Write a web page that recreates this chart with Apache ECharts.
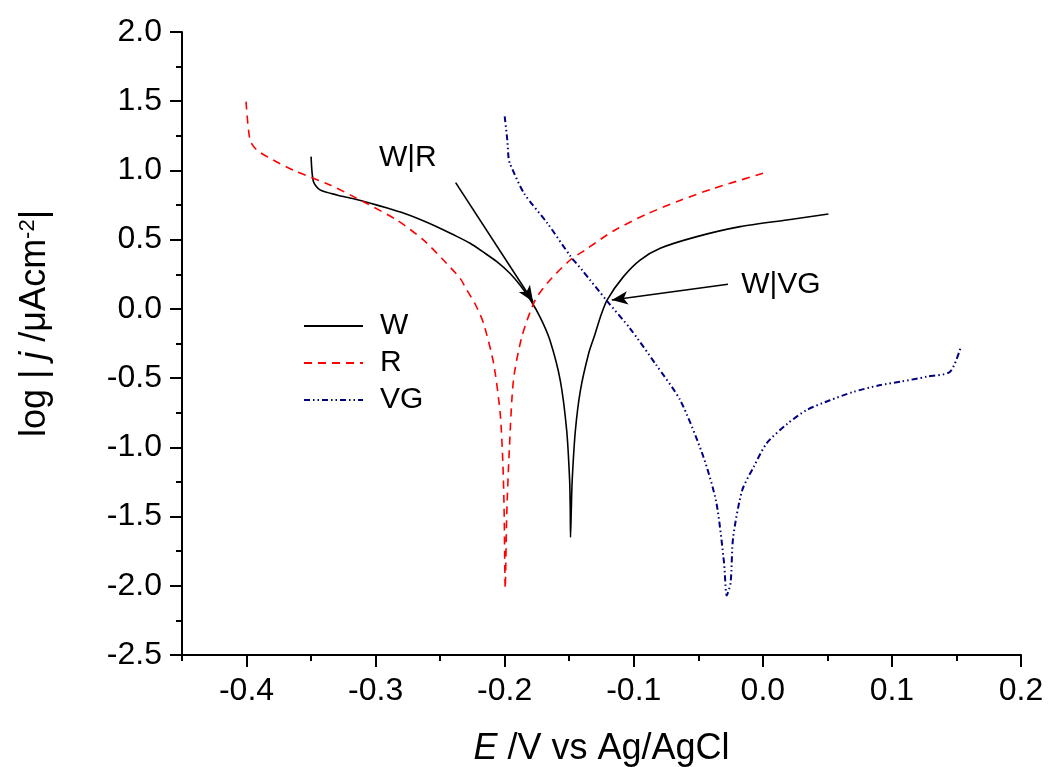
<!DOCTYPE html>
<html>
<head>
<meta charset="utf-8">
<script src="https://cdn.jsdelivr.net/npm/echarts@6/dist/echarts.min.js"></script>
<style>
html,body{margin:0;padding:0;background:#fff;}
#chart{width:1048px;height:767px;}
</style>
</head>
<body>
<div id="chart"></div>
<script>
// ---- data ----
const W_E = [-0.350,-0.3482,-0.3431,-0.330,-0.317,-0.304,-0.291,-0.278,-0.265,-0.2526,-0.240,-0.2268,-0.2165,-0.2061,-0.196,-0.188,-0.180,-0.172,-0.165,-0.157,-0.152,-0.1497,-0.1492,-0.149,-0.1484,-0.1477,-0.1452,-0.1413,-0.1349,-0.1301,-0.1258,-0.1207,-0.108,-0.0951,-0.0795,-0.0511,-0.0176,0.0186,0.0508];
const W_J = [1.10,0.92,0.86,0.823,0.795,0.763,0.728,0.69,0.644,0.594,0.537,0.474,0.41,0.341,0.257,0.17,0.064,-0.07,-0.225,-0.514,-0.875,-1.236,-1.45,-1.65,-1.45,-1.236,-0.875,-0.586,-0.32,-0.185,-0.056,0.064,0.233,0.353,0.438,0.522,0.594,0.642,0.685];

const R_E = [-0.4004,-0.3973,-0.3921,-0.3793,-0.3611,-0.3353,-0.3095,-0.2836,-0.263,-0.2475,-0.2346,-0.2293,-0.2225,-0.2164,-0.2086,-0.2035,-0.2014,-0.2004,-0.1996,-0.1984,-0.1963,-0.1932,-0.1867,-0.1764,-0.1661,-0.1493,-0.1377,-0.1158,-0.0899,-0.0642,-0.0383,0.0005];
const R_J = [1.497,1.22,1.148,1.075,0.991,0.895,0.774,0.642,0.498,0.353,0.221,0.136,0.028,-0.104,-0.393,-0.754,-1.115,-1.477,-2.02,-1.477,-0.995,-0.514,-0.201,0.064,0.196,0.353,0.425,0.563,0.685,0.783,0.87,0.98];

const VG_E = [-0.200,-0.198,-0.197,-0.196,-0.185,-0.167,-0.149,-0.140,-0.121,-0.103,-0.083,-0.064,-0.046,-0.036,-0.030,-0.028,-0.025,-0.023,-0.016,-0.007,0.003,0.019,0.034,0.052,0.070,0.091,0.107,0.127,0.145,0.153];
const VG_J = [1.39,1.22,1.09,1.05,0.835,0.62,0.38,0.28,0.06,-0.14,-0.40,-0.66,-1.07,-1.40,-1.84,-2.07,-1.98,-1.65,-1.31,-1.14,-0.97,-0.83,-0.73,-0.66,-0.60,-0.55,-0.525,-0.49,-0.454,-0.285];

const SERIES_NAMES = ['W','R','VG'];
const X_MAJOR = [-0.4,-0.3,-0.2,-0.1,0.0,0.1,0.2];
const X_MINOR = [-0.45,-0.35,-0.25,-0.15,-0.05,0.05,0.15];

// annotations: label text, text anchor (E, logj), arrow start, arrow end
const ANN_WR = {text:'W|R', at:[-0.275,1.09], from:[-0.238,0.912], to:[-0.178,0.052]};
const ANN_WVG = {text:'W|VG', at:[0.014,0.175], from:[-0.027,0.178], to:[-0.117,0.064]};

const zip = (a,b) => a.map((v,i)=>[v,b[i]]);
const FONT = 'Liberation Sans, Arial, sans-serif';

const chart = echarts.init(document.getElementById('chart'));
const annText = a => ({
  coord: a.at, symbol:'circle', symbolSize:0, itemStyle:{color:'transparent'},
  label:{show:true, position:'inside', formatter:a.text, color:'#000', fontSize:30, fontFamily:FONT}
});
const annLine = a => [{coord:a.from},{coord:a.to}];

chart.setOption({
  animation:false,
  backgroundColor:'#fff',
  grid:{left:182,right:27,top:32,bottom:112,containLabel:false,outerBoundsMode:'none'},
  legend:{
    orient:'vertical', left:303, top:311, padding:0, itemWidth:59, itemHeight:14, itemGap:7,
    itemStyle:{color:'transparent', borderColor:'transparent', borderWidth:0, opacity:0},
    textStyle:{fontSize:30, fontFamily:FONT, color:'#000', padding:[0,0,0,12]},
    data:SERIES_NAMES
  },
  xAxis:[{
    type:'value', min:-0.45, max:0.2, position:'bottom',
    name:'{i|E} /V vs Ag/AgCl', nameLocation:'middle', nameGap:76,
    nameTextStyle:{fontSize:36, fontFamily:FONT, color:'#000',
      rich:{i:{fontStyle:'italic', fontSize:36, fontFamily:FONT, color:'#000'}}},
    axisLine:{show:true, onZero:false, lineStyle:{color:'#000', width:2}},
    axisTick:{show:true, inside:false, length:12, customValues:X_MAJOR, lineStyle:{color:'#000', width:2}},
    axisLabel:{show:true, customValues:X_MAJOR, margin:20, fontSize:32, fontFamily:FONT, color:'#000',
      formatter:v=>v.toFixed(1)},
    splitLine:{show:false}
  },{
    type:'value', min:-0.45, max:0.2, position:'bottom', gridIndex:0,
    axisLine:{show:false, onZero:false},
    axisTick:{show:true, length:6, customValues:X_MINOR, lineStyle:{color:'#000', width:2}},
    axisLabel:{show:false}, splitLine:{show:false}
  }],
  yAxis:{
    type:'value', min:-2.5, max:2.0, interval:0.5,
    name:'log | {i|j} /μAcm{sup|-2}|', nameLocation:'middle', nameGap:129, nameRotate:90,
    nameTextStyle:{fontSize:36, fontFamily:FONT, color:'#000', padding:[0,0,0,40],
      rich:{i:{fontStyle:'italic', fontSize:36, fontFamily:FONT, color:'#000'},
            sup:{fontSize:22, fontFamily:FONT, color:'#000', verticalAlign:'top', padding:[0,0,14,0]}}},
    axisLine:{show:true, onZero:false, lineStyle:{color:'#000', width:2}},
    axisTick:{show:true, inside:false, length:12, lineStyle:{color:'#000', width:2}},
    minorTick:{show:true, splitNumber:2, length:6, lineStyle:{color:'#000', width:2}},
    axisLabel:{margin:20, fontSize:32, fontFamily:FONT, color:'#000', formatter:v=>v.toFixed(1)},
    splitLine:{show:false}, minorSplitLine:{show:false}
  },
  series:[{
    name:'W', type:'line', data:zip(W_E,W_J), showSymbol:false, symbol:'none', smooth:0.25,
    lineStyle:{color:'#000', width:1.6, type:'solid'}, itemStyle:{color:'#000'},
    markLine:{silent:true, symbol:['none','arrow'], symbolSize:[10,16],
      lineStyle:{color:'#000', width:1.6, type:'solid'}, label:{show:false},
      data:[annLine(ANN_WR), annLine(ANN_WVG)]},
    markPoint:{silent:true, data:[annText(ANN_WR), annText(ANN_WVG)]}
  },{
    name:'R', type:'line', data:zip(R_E,R_J), showSymbol:false, symbol:'none', smooth:0.25,
    lineStyle:{color:'#ff0000', width:1.6, type:[8,6]}, itemStyle:{color:'#ff0000'}
  },{
    name:'VG', type:'line', data:zip(VG_E,VG_J), showSymbol:false, symbol:'none', smooth:0.25,
    lineStyle:{color:'#000080', width:2, type:[6,3,1.5,3,1.5,3]}, itemStyle:{color:'#000080'}
  }]
});
</script>
</body>
</html>
